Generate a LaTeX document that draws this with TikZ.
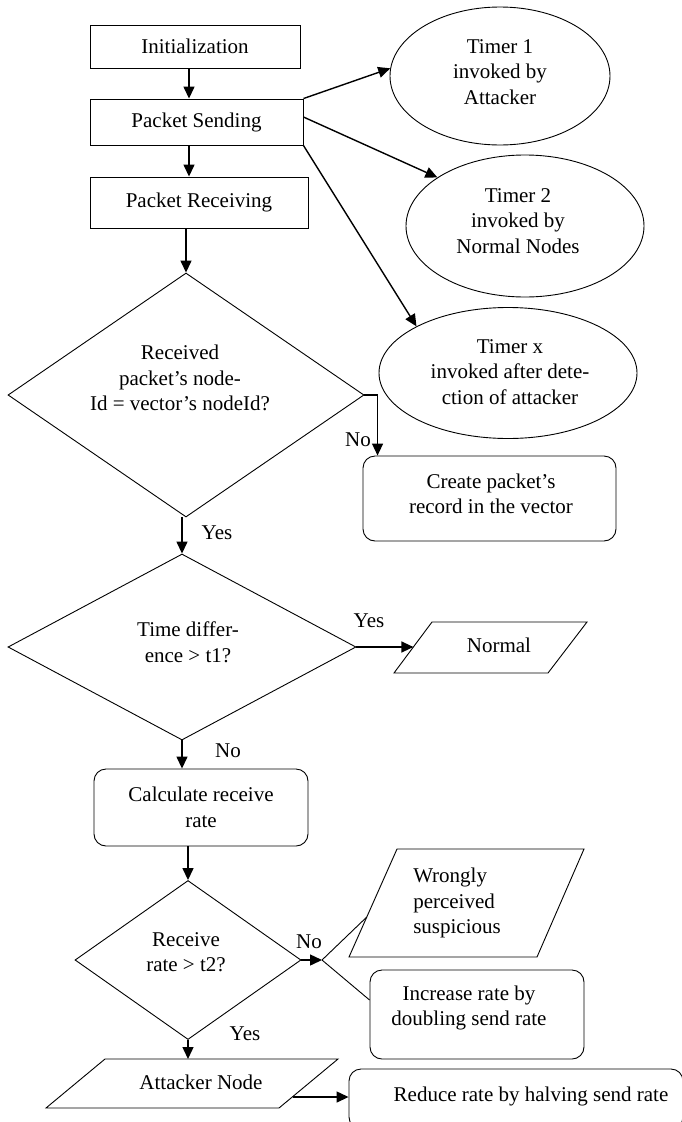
\documentclass[tikz,border=0pt]{standalone}
\usepackage{fontspec}
\setmainfont{Liberation Serif}
\usetikzlibrary{shapes.geometric,arrows.meta}
\begin{document}
\begin{tikzpicture}[x=1pt,y=-1pt,
  every node/.style={font=\fontsize{21}{25.5}\selectfont},
  box/.style={draw,line width=0.9pt,inner sep=0pt,align=center},
  rbox/.style={box,rounded corners=12pt},
  dec/.style={draw,diamond,line width=0.9pt,inner sep=0pt},
  oval/.style={draw,ellipse,line width=0.9pt,inner sep=0pt,align=center},
  para/.style={draw,line width=0.9pt,line join=miter},
  txt/.style={align=center,inner sep=0pt},
  lbl/.style={inner sep=0pt},
  arr/.style={line width=1.4pt,-{Triangle[length=12pt,width=11pt]}},
  ln/.style={line width=0.9pt},
]
\useasboundingbox (0,0) rectangle (682,1122);
\fill[white] (0,0) rectangle (682,1122);

% left column
\node[box,minimum width=210pt,minimum height=43pt] (init) at (195,46.5) {Initialization};
\node[box,minimum width=213pt,minimum height=46pt] (send) at (196.5,122) {Packet Sending};
\node[box,minimum width=218pt,minimum height=51pt] (recv) at (199,202.5) {Packet Receiving};

% timers
\node[oval,minimum width=220pt,minimum height=138pt] (t1) at (500,76) {};
\node[txt] (t1t) at (500,72) {Timer 1\\invoked by\\Attacker};
\node[oval,minimum width=238pt,minimum height=142pt] (t2) at (525,226) {};
\node[txt] (t2t) at (518,221) {Timer 2\\invoked by\\Normal Nodes};
\node[oval,minimum width=258pt,minimum height=131pt] (tx) at (508,373) {};
\node[txt] (txt) at (510,372) {Timer x\\invoked after dete-\\ction of attacker};

% decision 1
\node[dec,minimum width=356pt,minimum height=244pt] (d1) at (186,395) {};
\node[txt] (d1t) at (180,378) {Received\\packet’s node-\\Id = vector’s nodeId?};
\node[rbox,minimum width=253pt,minimum height=85pt] (create) at (489.5,498.5) {};
\node[txt] (createt) at (491,494) {Create packet’s\\record in the vector};

% decision 2
\node[dec,minimum width=348pt,minimum height=186pt] (d2) at (182,647) {};
\node[txt] (d2t) at (188,642) {Time differ-\\ence > t1?};
\draw[para] (432,622) -- (587,622) -- (548,673) -- (394,673) -- cycle;
\node[lbl] (normal) at (499,645) {Normal};
\coordinate (normalL) at (413.4,647);

\node[rbox,minimum width=214pt,minimum height=77pt] (calc) at (201,807.5) {Calculate receive\\rate};

% decision 3
\node[dec,minimum width=226pt,minimum height=159pt] (d3) at (188,960) {};
\node[txt] (d3t) at (186,952) {Receive\\rate > t2?};
\draw[para] (397,849) -- (584,849) -- (537,957) -- (349,957) -- cycle;
\node[inner sep=0pt,align=left] (wrong) at (457,903) {Wrongly\\perceived\\suspicious};
\coordinate (wrongL) at (366.8,917);
\coordinate (split) at (322,960);
\node[rbox,minimum width=214pt,minimum height=89pt] (incr) at (477,1014.5) {};
\node[txt] (incrt) at (469,1008) {Increase rate by\\doubling send rate};

% attacker
\draw[para] (105,1059) -- (338,1059) -- (279,1108) -- (46,1108) -- cycle;
\node[lbl] (att) at (201,1082) {Attacker Node};
\coordinate (attT) at (188,1059);
\coordinate (attR) at (293.4,1097);
\node[rbox,minimum width=334pt,minimum height=60pt] (reduce) at (516,1099) {};
\node[lbl] (reducet) at (531,1096) {Reduce rate by halving send rate};

% connectors
\coordinate (cx) at (189,0);
\draw[arr] (init.south -| cx) -- (send.north -| cx);
\draw[arr] (send.south -| cx) -- (recv.north -| cx);
\draw[arr] (recv.south -| d1.north) -- (d1.north);
\draw[arr] (send.north east) -- (t1.176);
\draw[arr] ([yshift=5pt]send.east) -- (t2.151);
\draw[arr] (send.south east) -- (tx.153);
\draw[arr] (d1.east) -| ([xshift=15pt]create.north west);
\draw[arr] (d1.south -| d2.north) -- (d2.north);
\draw[arr] (d2.east) -- (normalL);
\draw[arr] (d2.south) -- (d2.south |- calc.north);
\draw[arr] (calc.south -| d3.north) -- (d3.north);
\draw[arr] (d3.east) -- (split);
\draw[ln] (split) -- (wrongL);
\draw[ln] (split) -- ([yshift=14.5pt]incr.west);
\draw[arr] (d3.south) -- (attT);
\draw[arr] (attR) -- (attR -| reduce.west);

% labels
\node[lbl] (no1) at (358,440) {No};
\node[lbl] (yes1) at (217,533) {Yes};
\node[lbl] (yes2) at (369,621) {Yes};
\node[lbl] (no2) at (228,751) {No};
\node[lbl] (no3) at (309,942) {No};
\node[lbl] (yes3) at (245,1034) {Yes};
\end{tikzpicture}
\end{document}
